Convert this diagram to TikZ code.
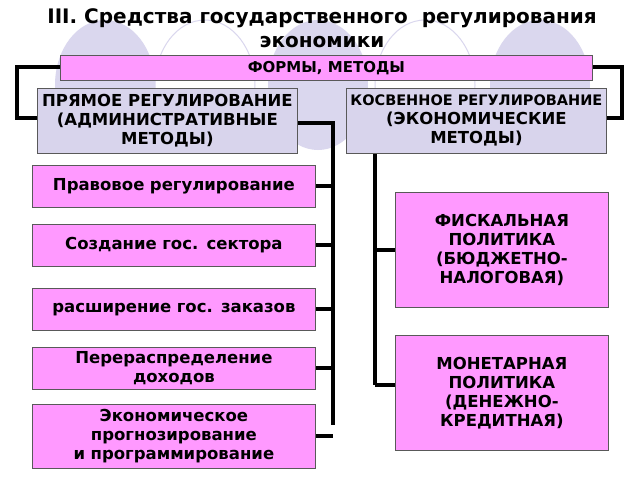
\documentclass[tikz,border=0pt]{standalone}
\usepackage{fontspec}
\setmainfont{DejaVu Sans}
\begin{document}
\begin{tikzpicture}[x=1pt,y=-1pt,
  pinkbox/.style={draw=gray!70!black,line width=0.8pt,fill=pinkc,inner sep=0pt,font=\bfseries\fontsize{16.5}{19}\selectfont,align=center},
  lavbox/.style={draw=gray!70!black,line width=0.8pt,fill=lavc,inner sep=0pt,font=\bfseries\fontsize{16.5}{19}\selectfont,align=center},
  conn/.style={line width=3.5pt,black}]
\definecolor{pinkc}{HTML}{FF99FF}
\definecolor{lavc}{HTML}{D8D4EC}
\definecolor{circc}{HTML}{DAD7EE}
\useasboundingbox (0,0) rectangle (640,480);
\fill[white] (0,0) rectangle (640,480);
% decorative circles
\foreach \cx/\f in {105/1,205/0,318/1,425/0,540/1}{
  \ifnum\f=1 \fill[circc] (\cx,85) ellipse (50 and 65);
  \else \draw[circc,line width=1pt] (\cx,85) ellipse (50 and 65); \fi}
\node[font=\bfseries\fontsize{20}{24}\selectfont,align=center] (title) at (322,28)
  {III. Средства государственного\ \ регулирования\\экономики};
% connectors
\coordinate (lb1) at (17,67); \coordinate (lb2) at (17,118);
\coordinate (rb1) at (622,67); \coordinate (rb2) at (622,118);
\coordinate (lv0) at (333,123); \coordinate (lv1) at (333,425);
\coordinate (rv0) at (375,153); \coordinate (rv1) at (375,385);
\draw[conn] (60,67) -- (lb1) -- (lb2) -- (37,118);
\draw[conn] (592,67) -- (rb1) -- (rb2) -- (606,118);
\draw[conn] (297,123) -- (lv0) -- (lv1);
\draw[conn] (rv0) -- (rv1);
% boxes
\node[pinkbox,minimum width=532,minimum height=25,anchor=north west,font=\bfseries\fontsize{15}{17}\selectfont] (forms) at (60,55) {ФОРМЫ, МЕТОДЫ};
\node[lavbox,minimum width=260,minimum height=65,anchor=north west] (direct) at (37,88) {ПРЯМОЕ РЕГУЛИРОВАНИЕ\\(АДМИНИСТРАТИВНЫЕ\\МЕТОДЫ)};
\node[lavbox,minimum width=260,minimum height=65,anchor=north west,font=\bfseries\fontsize{14.5}{19}\selectfont] (indirect) at (346,88) {КОСВЕННОЕ РЕГУЛИРОВАНИЕ\\\fontsize{16.5}{19}\selectfont(ЭКОНОМИЧЕСКИЕ\\\fontsize{16.5}{19}\selectfont МЕТОДЫ)};
% left items
\foreach \n/\y/\h/\t in {a/165/42/{Правовое регулирование},b/224/42/{Создание гос. сектора},c/288/42/{расширение гос. заказов},d/347/42/{Перераспределение доходов},e/404/64/{Экономическое\\прогнозирование\\и программирование}}{
  \draw[conn] (315,\y+\h/2) -- (333,\y+\h/2);
  \node[pinkbox,minimum width=283,minimum height=\h,anchor=north west,text width=283] (\n) at (32,\y) {\t};
}
\foreach \n/\y/\t in {f/192/{ФИСКАЛЬНАЯ\\ПОЛИТИКА\\(БЮДЖЕТНО-\\НАЛОГОВАЯ)},m/335/{МОНЕТАРНАЯ\\ПОЛИТИКА\\(ДЕНЕЖНО-\\КРЕДИТНАЯ)}}{
  \node[pinkbox,minimum width=213,minimum height=115,anchor=north west] (\n) at (395,\y) {\t};
}
\draw[conn] (rv0 |- f.west) -- (f.west);
\draw[conn] (rv1) -- (rv1 -| m.west);
\end{tikzpicture}
\end{document}
